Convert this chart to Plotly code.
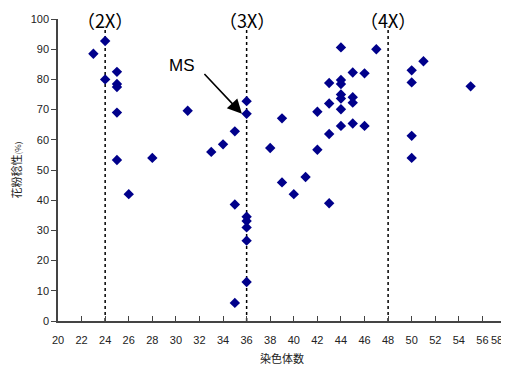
import plotly.graph_objects as go

# Data: chromosome number vs pollen fertility (%)
chromosomes = [23, 24, 24, 25, 25, 25, 25, 25, 26, 28, 31, 33, 34, 35, 36, 36, 35, 36, 36, 36, 36, 36, 35,
               44, 47, 51, 50, 50, 55, 45, 46, 43, 44, 44, 44, 44, 45, 45, 43, 44, 42, 39, 44, 45, 46, 43, 50,
               42, 38, 50, 39, 41, 40, 43]
fertility = [88.5, 92.7, 80.0, 82.5, 78.5, 77.5, 69.0, 53.3, 42.0, 54.0, 69.6, 56.0, 58.5, 62.8, 72.8, 68.6,
             38.6, 34.5, 33.1, 31.0, 26.6, 12.9, 6.0,
             90.6, 90.0, 86.0, 83.0, 79.0, 77.7, 82.3, 82.0, 78.8, 79.8, 78.5, 75.0, 73.7, 74.1, 72.3, 72.0,
             70.1, 69.3, 67.1, 64.6, 65.4, 64.6, 61.9, 61.3, 56.7, 57.3, 54.0, 45.9, 47.7, 42.0, 39.0]

ploidy_x = [24, 36, 48]
ploidy_labels = ["（2X）", "（3X）", "（4X）"]
x_ticks = list(range(20, 59, 2))
x_ticktext = [str(v) for v in x_ticks[:-1]] + [""]
y_ticks = list(range(0, 101, 10))

ms_point = (36, 68.6)

fig = go.Figure()

for px in ploidy_x:
    fig.add_trace(go.Scatter(
        x=[px, px], y=[0, 97.5], mode="lines",
        line=dict(color="black", width=1.5, dash="dot"),
        hoverinfo="skip", showlegend=False))

fig.add_trace(go.Scatter(
    x=chromosomes, y=fertility, mode="markers",
    marker=dict(symbol="diamond", size=8, color="#00008B"),
    showlegend=False))

for px, lab in zip(ploidy_x, ploidy_labels):
    fig.add_annotation(x=px, y=0.998, xref="x", yref="paper", text=lab, showarrow=False,
                       font=dict(family="Noto Sans CJK JP", size=18, color="black"),
                       xanchor="center", yanchor="middle")

# MS arrow
fig.add_annotation(x=ms_point[0] - 0.4, y=ms_point[1], xref="x", yref="y",
                   ax=32.3, ay=82.3, axref="x", ayref="y", text="",
                   showarrow=True, arrowhead=2, arrowsize=1.8, arrowwidth=1.6,
                   arrowcolor="black", standoff=0, startstandoff=0)
fig.add_annotation(x=30.5, y=84.6, xref="x", yref="y", text="MS", showarrow=False,
                   font=dict(family="Liberation Sans", size=17, color="black"),
                   xanchor="center", yanchor="middle")

# last x tick label sits at the right edge of the figure
fig.add_annotation(x=x_ticks[-1], y=0, xref="x", yref="paper", yshift=-19, xshift=-1,
                   text=str(x_ticks[-1]), showarrow=False,
                   font=dict(family="Liberation Sans", size=11, color="#222"),
                   xanchor="right", yanchor="middle")

fig.update_xaxes(range=[20, 58], tickvals=x_ticks, ticktext=x_ticktext, ticks="inside", ticklen=5,
                 tickcolor="#444", showline=True, linecolor="#444", linewidth=1.5,
                 showgrid=False, zeroline=False, automargin=False, ticklabelstandoff=8,
                 tickfont=dict(family="Liberation Sans", size=11, color="#222"),
                 title=dict(text="染色体数", font=dict(family="Noto Sans CJK JP", size=11, color="#222"),
                            standoff=10))
fig.update_yaxes(range=[0, 100], tickvals=y_ticks, ticks="outside", ticklen=5,
                 tickcolor="#444", showline=True, linecolor="#444", linewidth=1.5,
                 showgrid=False, zeroline=False, automargin=False,
                 tickfont=dict(family="Liberation Sans", size=11, color="#222"),
                 title=dict(text="花粉稔性<span style='font-size:8px'>(%)</span>",
                            font=dict(family="Noto Sans CJK JP", size=11, color="#222"),
                            standoff=8))

fig.update_layout(width=501, height=359, margin=dict(l=50, r=3, t=11, b=46),
                  plot_bgcolor="white", paper_bgcolor="white")

fig.write_html("out.html")
